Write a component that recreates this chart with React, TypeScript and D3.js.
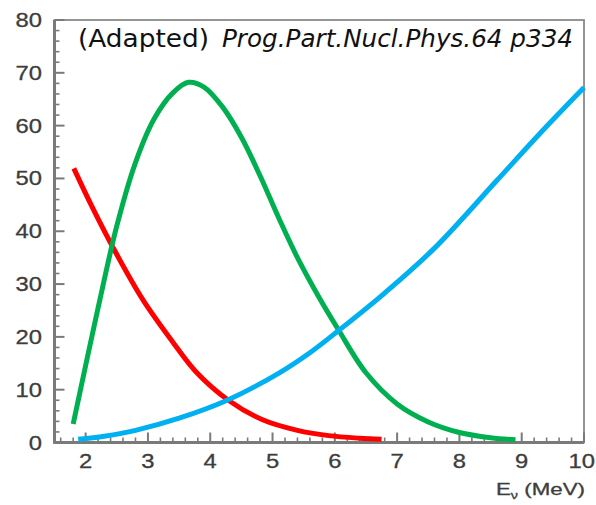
import React from "react";
import * as d3 from "d3";

const W = 596;
const H = 505;

// ---- data ----
const redX = [1.81, 2.1, 2.44, 2.92, 3.4, 3.77, 4.28, 4.84, 5.4, 5.9, 6.4, 6.75];
const redY = [51.9, 44.7, 36.9, 27.0, 19.0, 13.4, 8.1, 4.3, 2.3, 1.3, 0.8, 0.6];

const greenX = [1.8, 2.2, 2.5, 2.8, 3.1, 3.4, 3.65, 3.9, 4.2, 4.5, 4.8, 5.1, 5.4, 5.75, 6.06, 6.5, 7.0, 7.5, 8.0, 8.5, 8.9];
const greenY = [3.5, 25.5, 41, 53, 61.3, 66.2, 68.2, 67.3, 63.5, 57.8, 50.5, 42.5, 35, 27.4, 21.3, 13.2, 7.3, 3.9, 1.9, 0.9, 0.5];

const blueX = [1.88, 2.3, 2.8, 3.5, 4.28, 5.11, 5.6, 6.06, 6.8, 7.6, 8.6, 9.3, 10];
const blueY = [0.6, 1.2, 2.3, 4.6, 8.05, 13.2, 17.0, 21.2, 28.3, 36.8, 49.6, 58.6, 67.2];

const xTicks = [2, 3, 4, 5, 6, 7, 8, 9, 10];
const yTicks = [0, 10, 20, 30, 40, 50, 60, 70, 80];
const xDomain = [1.5, 10];
const yDomain = [0, 80];

const titlePlain = "(Adapted)";
const titleItalic = "Prog.Part.Nucl.Phys.64 p334";

const series = [
  { name: "red", xs: redX, ys: redY, color: "#ff0000" },
  { name: "green", xs: greenX, ys: greenY, color: "#00b050" },
  { name: "blue", xs: blueX, ys: blueY, color: "#00b0f0" },
];

export default function App() {
  const left = 54.5, right = 584, top = 20, bottom = 442.5;
  const x = d3.scaleLinear().domain(xDomain).range([left, right]);
  const y = d3.scaleLinear().domain(yDomain).range([bottom, top]);

  const xMinor = d3
    .range(16, 100, 2)
    .map((v) => v / 10)
    .filter((v) => v > xDomain[0] && v < xDomain[1] && Math.abs(v - Math.round(v)) > 1e-6);
  const yMinor = d3.range(2, 80, 2).filter((v) => v % 10 !== 0);

  const line = d3
    .line<[number, number]>()
    .x((d) => x(d[0]))
    .y((d) => y(d[1]))
    .curve(d3.curveCatmullRom.alpha(0.5));

  const axisColor = "#7a7a7a";
  const labelColor = "#3d3d3d";
  const labelFont = "'Liberation Sans', Arial, Helvetica, sans-serif";
  const sx = 1.22;
  const fs = 19.5;

  return (
    <svg width={W} height={H} style={{ position: "absolute", left: 0, top: 0, background: "#fff" }}>
      <rect x={0} y={0} width={W} height={H} fill="#fff" />
      {/* frame */}
      <rect x={left} y={top} width={right - left} height={bottom - top} fill="none" stroke="#8a8a8a" strokeWidth={1.8} />
      {/* y ticks */}
      {yTicks.map((t) => (
        <line key={"ym" + t} x1={left} x2={left + 10} y1={y(t)} y2={y(t)} stroke={axisColor} strokeWidth={2} />
      ))}
      {yMinor.map((t) => (
        <line key={"yn" + t} x1={left} x2={left + 5} y1={y(t)} y2={y(t)} stroke={axisColor} strokeWidth={1.6} />
      ))}
      {/* x ticks */}
      {xTicks.map((t) => (
        <line key={"xm" + t} x1={x(t)} x2={x(t)} y1={bottom} y2={bottom - 10} stroke={axisColor} strokeWidth={2} />
      ))}
      {xMinor.map((t) => (
        <line key={"xn" + t} x1={x(t)} x2={x(t)} y1={bottom} y2={bottom - 5} stroke={axisColor} strokeWidth={1.6} />
      ))}
      {/* axis lines */}
      <line x1={left} x2={left} y1={top} y2={bottom + 1} stroke={axisColor} strokeWidth={3} />
      <line x1={left - 1} x2={right} y1={bottom} y2={bottom} stroke={axisColor} strokeWidth={3} />
      {/* tick labels */}
      {yTicks.map((t) => (
        <text
          key={"yl" + t}
          transform={`translate(42,${y(t)}) scale(${sx},1)`}
          dy="0.36em"
          textAnchor="end"
          fontFamily={labelFont}
          fontSize={fs}
          fill={labelColor}
          stroke={labelColor}
          strokeWidth={0.3}
        >
          {t}
        </text>
      ))}
      {xTicks.map((t) => {
        const half = (String(t).length * 0.556 * fs * sx) / 2;
        const cx = Math.min(x(t), W - 1 - half);
        return (
          <text
            key={"xl" + t}
            transform={`translate(${cx},468) scale(${sx},1)`}
            textAnchor="middle"
            fontFamily={labelFont}
            fontSize={fs}
            fill={labelColor}
            stroke={labelColor}
            strokeWidth={0.3}
          >
            {t}
          </text>
        );
      })}
      {/* x axis title */}
      <text
        x={496}
        y={495}
        fontFamily={labelFont}
        fontSize={17}
        fill={labelColor}
        stroke={labelColor}
        strokeWidth={0.3}
        textLength={89}
        lengthAdjust="spacingAndGlyphs"
      >
        E
        <tspan fontSize={11} dy={4}>ν</tspan>
        <tspan dy={-4}> (MeV)</tspan>
      </text>
      {/* curves */}
      {series.map((s) => (
        <path
          key={s.name}
          d={line(s.xs.map((v, i) => [v, s.ys[i]] as [number, number])) || ""}
          fill="none"
          stroke={s.color}
          strokeWidth={5}
          strokeLinecap="butt"
          strokeLinejoin="round"
        />
      ))}
      {/* title */}
      <text x={78} y={47} fontFamily="'DejaVu Sans', sans-serif" fontSize={25} fill="#111" textLength={131} lengthAdjust="spacingAndGlyphs">
        {titlePlain}
      </text>
      <text
        x={222}
        y={47}
        fontFamily="'DejaVu Sans', sans-serif"
        fontStyle="italic"
        fontSize={25}
        fill="#111"
        textLength={351}
        lengthAdjust="spacingAndGlyphs"
      >
        {titleItalic}
      </text>
    </svg>
  );
}
